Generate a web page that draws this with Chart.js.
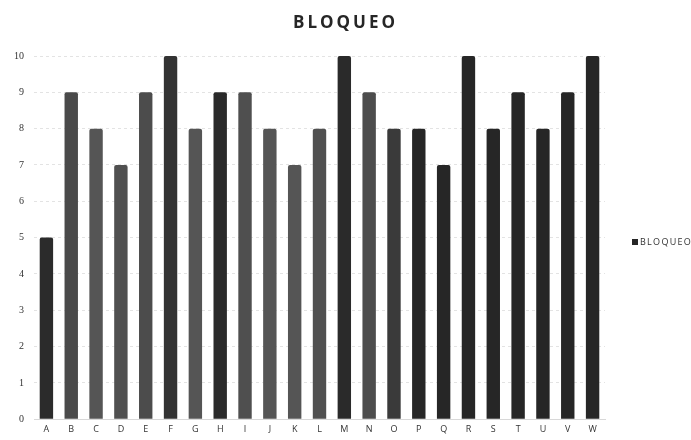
<!DOCTYPE html>
<html>
<head>
<meta charset="utf-8">
<script src="https://cdn.jsdelivr.net/npm/chart.js@4/dist/chart.umd.min.js"></script>
<style>
  html, body { margin: 0; padding: 0; background: #fff; overflow: hidden; }
  #wrap { position: relative; width: 691px; height: 440px; overflow: hidden; }
  #title {
    position: absolute; left: 0; top: 10px; width: 691px; text-align: center;
    font-family: "Open Sans", sans-serif; font-weight: 700; font-size: 17px;
    letter-spacing: 3px; color: #262626;
  }
  #legend {
    position: absolute; left: 632px; top: 235px; white-space: nowrap;
    font-family: "Open Sans", sans-serif; font-size: 9px; letter-spacing: 1.3px; color: #333;
  }
  #legend .sw { display: inline-block; width: 6px; height: 6px; background: #262626; margin-right: 2px; }
  canvas { display: block; }
</style>
</head>
<body>
<div id="wrap">
  <div id="title">BLOQUEO</div>
  <canvas id="c" width="691" height="440"></canvas>
  <div id="legend"><span class="sw"></span>BLOQUEO</div>
</div>
<script>
// Categories and values
const categories = ['A','B','C','D','E','F','G','H','I','J','K','L','M','N','O','P','Q','R','S','T','U','V','W'];
const bloqueo = [5, 9, 8, 7, 9, 10, 8, 9, 9, 8, 7, 8, 10, 9, 8, 8, 7, 10, 8, 9, 8, 9, 10];
const yTicks = [0,1,2,3,4,5,6,7,8,9,10];

// Per-bar shading (darker or lighter grey)
const barShades = ['#2b2b2b','#4a4a4a','#555555','#505050','#4c4c4c','#333333','#555555','#2a2a2a',
  '#4f4f4f','#555555','#555555','#505050','#2a2a2a','#4d4d4d','#3a3a3a','#262626','#262626',
  '#262626','#262626','#262626','#262626','#262626','#262626'];

new Chart(document.getElementById('c'), {
  type: 'bar',
  data: {
    labels: categories,
    datasets: [{
      label: 'BLOQUEO',
      data: bloqueo,
      backgroundColor: barShades,
      borderWidth: 0,
      borderRadius: { topLeft: 2, topRight: 2 },
      borderSkipped: 'bottom',
      categoryPercentage: 1.0,
      barPercentage: 0.54
    }]
  },
  options: {
    responsive: false,
    animation: false,
    layout: { padding: { top: 56, left: 4, right: 86, bottom: 0 } },
    plugins: {
      title: { display: false },
      tooltip: { enabled: false },
      legend: { display: false }
    },
    scales: {
      x: {
        grid: { display: false, drawTicks: false },
        border: { color: '#d8d8d8' },
        ticks: { color: '#333', font: { family: 'Open Sans', size: 9 }, padding: 5, maxRotation: 0, autoSkip: false }
      },
      y: {
        min: 0, max: 10,
        afterBuildTicks: (axis) => { axis.ticks = yTicks.map(v => ({ value: v })); },
        grid: { color: 'rgba(0,0,0,0.11)', drawTicks: false },
        border: { display: false, dash: [3, 3] },
        ticks: { color: '#333', font: { family: 'Liberation Serif', size: 10 }, padding: 10 }
      }
    }
  }
});
</script>
</body>
</html>
